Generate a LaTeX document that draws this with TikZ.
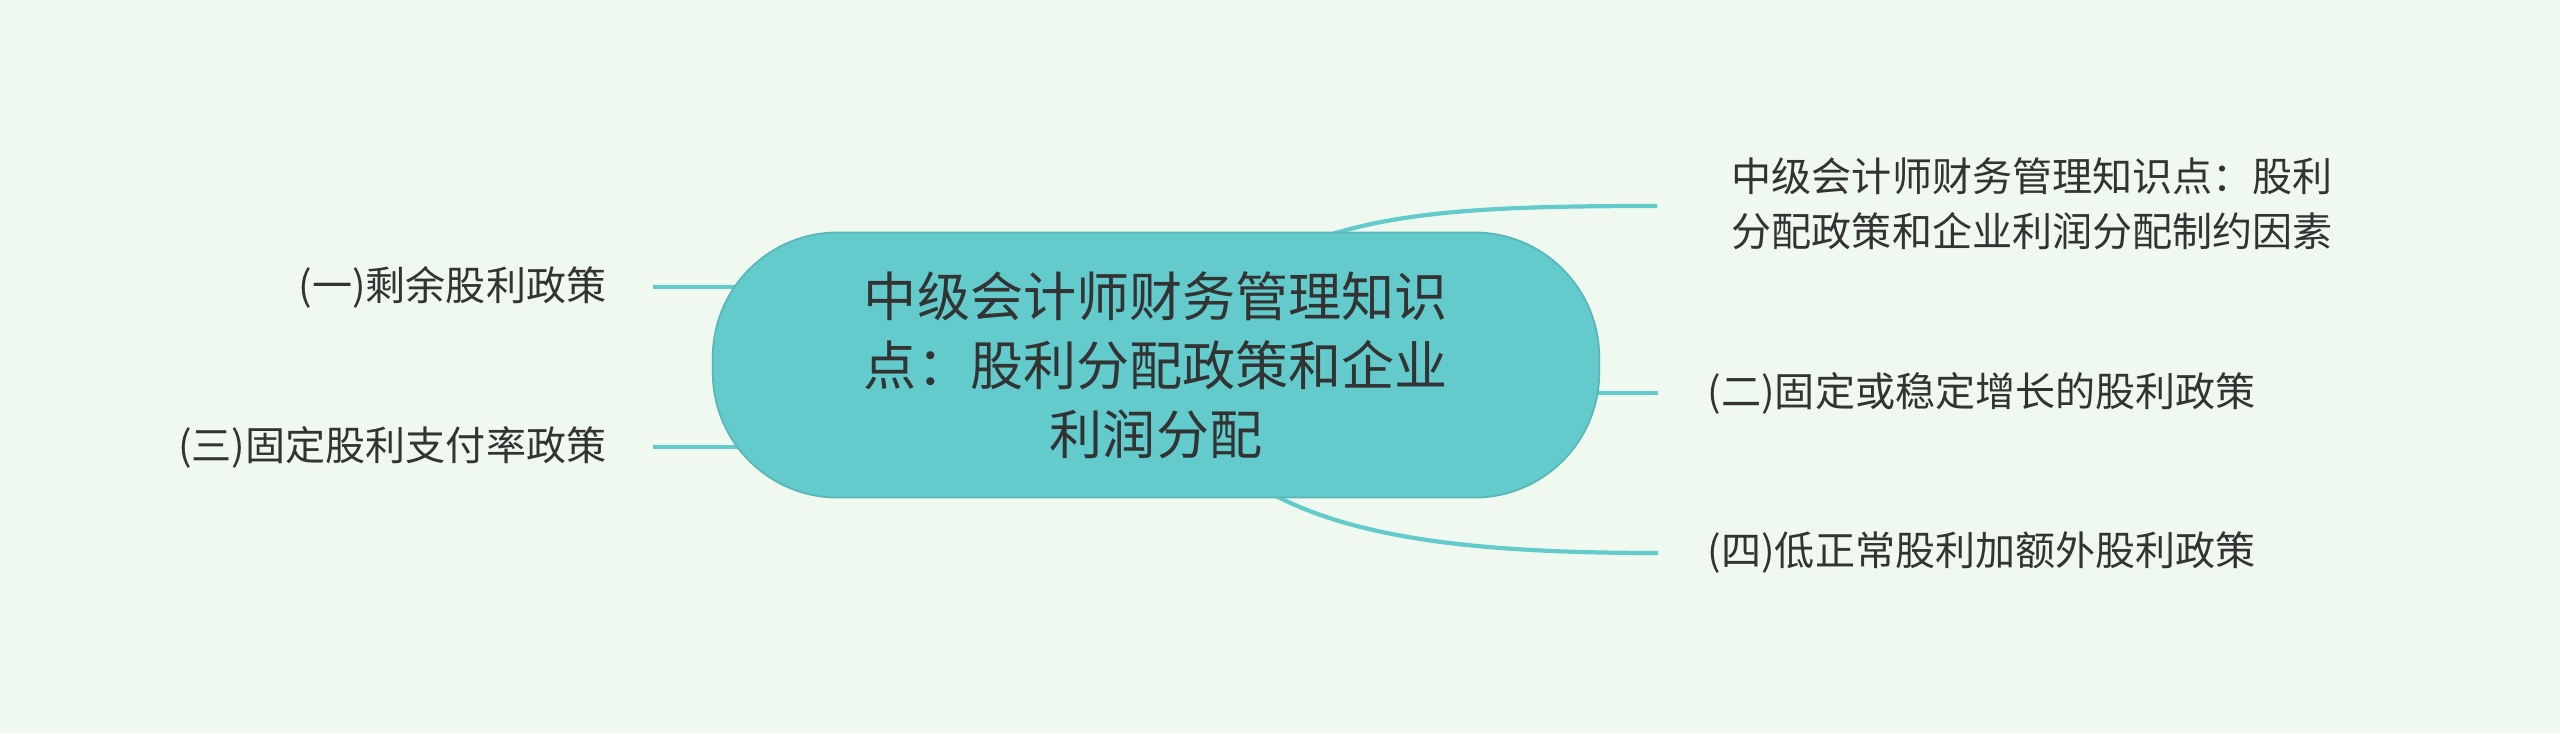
\documentclass[tikz,border=0pt]{standalone}
\usepackage{fontspec}
\setmainfont{Noto Sans CJK SC}
\usetikzlibrary{backgrounds}
\definecolor{bgc}{HTML}{F0F9EF}
\definecolor{teal}{HTML}{63CBCC}
\definecolor{txt}{HTML}{333333}
\begin{document}
\begin{tikzpicture}[x=0.01cm,y=-0.01cm,
  rootbox/.style={draw=teal!90!black, line width=0.5pt, fill=teal, rounded corners=1.25cm,
    minimum width=8.86cm, minimum height=2.65cm, align=center,
    text=txt, font=\fontsize{15.1}{19.6}\selectfont},
  leaf/.style={inner sep=0pt, text=txt, font=\fontsize{11.4}{15.6}\selectfont},
  conn/.style={draw=teal, line width=1.2pt}]
\useasboundingbox (0,0) rectangle (2560,733);
\node[rootbox] (root) at (1156,365) {中级会计师财务管理知识\\点：股利分配政策和企业\\利润分配};
\node[leaf, anchor=east] (l1) at (607,287) {(一)剩余股利政策};
\node[leaf, anchor=east] (l2) at (607,447) {(三)固定股利支付率政策};
\node[leaf, anchor=west, align=left] (r1) at (1731,204) {中级会计师财务管理知识点：股利\\分配政策和企业利润分配制约因素};
\node[leaf, anchor=west] (r2) at (1707,393) {(二)固定或稳定增长的股利政策};
\node[leaf, anchor=west] (r3) at (1707,552) {(四)低正常股利加额外股利政策};
\coordinate (a1) at (653,287);
\coordinate (a2) at (653,447);
\coordinate (b1) at (1657,206);
\coordinate (b2) at (1658,393);
\coordinate (b3) at (1658,553);
\begin{scope}[on background layer]
\fill[bgc] (0,0) rectangle (2560,733);
\draw[conn] (a1) -- (root.center |- a1);
\draw[conn] (a2) -- (root.center |- a2);
\draw[conn] (root.center) .. controls (1260,215) and (1400,206) .. (b1);
\draw[conn] (root.center |- b2) -- (b2);
\draw[conn] (root.center) .. controls (1220,520) and (1380,553) .. (b3);
\end{scope}
\end{tikzpicture}
\end{document}
